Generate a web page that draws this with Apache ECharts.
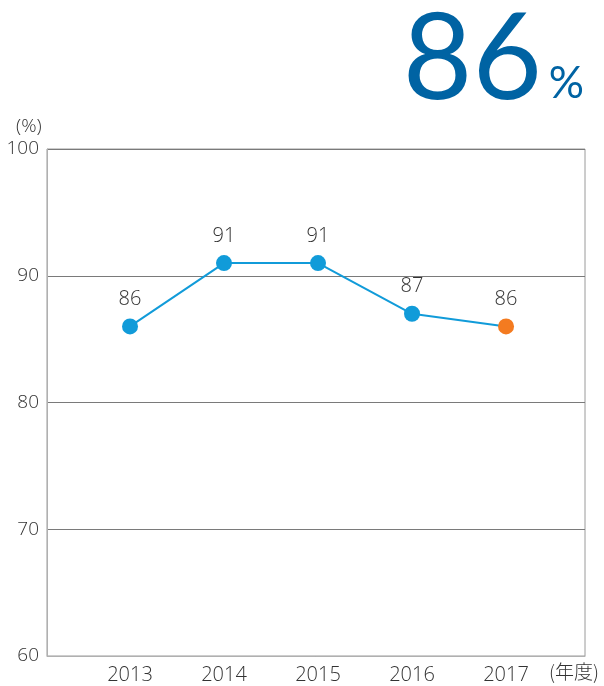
<!DOCTYPE html>
<html>
<head>
<meta charset="utf-8">
<script src="https://cdn.jsdelivr.net/npm/echarts@6/dist/echarts.min.js"></script>
<style>
  html, body { margin: 0; padding: 0; background: #fff; }
  #chart { width: 604px; height: 686px; }
</style>
</head>
<body>
<div id="chart"></div>
<script>
// Yearly rate (%), fiscal years 2013–2017
const years = [2013, 2014, 2015, 2016, 2017];
const rates = [86, 91, 91, 87, 86];
const yTicks = [60, 70, 80, 90, 100];

const FONT = "'Open Sans', 'Noto Sans', sans-serif";
const BLUE = '#119bd9';
const ORANGE = '#f47b20';
const DARK_BLUE = '#0063a3';
const latest = rates[rates.length - 1];

const seriesData = years.map((y, i) => {
  const item = { value: [y, rates[i]] };
  if (i === years.length - 1) item.itemStyle = { color: ORANGE };
  return item;
});

const chart = echarts.init(document.getElementById('chart'), null, { renderer: 'canvas' });
chart.setOption({
  animation: false,
  backgroundColor: '#fff',
  grid: {
    left: 47, right: 19, top: 149, bottom: 30,
    show: true, borderColor: '#9a9a9a', borderWidth: 1
  },
  xAxis: {
    type: 'value',
    min: 2012.117,
    max: 2017.84,
    axisLine: { show: true, lineStyle: { color: '#b0b0b0', width: 1 } },
    axisTick: { show: false },
    splitLine: { show: false },
    axisLabel: {
      customValues: years,
      formatter: v => String(v),
      color: '#333', fontSize: 20, fontWeight: 300, fontFamily: FONT, margin: 9
    }
  },
  yAxis: {
    type: 'value',
    min: yTicks[0], max: yTicks[yTicks.length - 1], interval: 10,
    axisLine: { show: true, lineStyle: { color: '#b0b0b0', width: 1 } },
    axisTick: { show: false },
    splitLine: { show: true, lineStyle: { color: '#7a7a7a', width: 1 } },
    axisLabel: { color: '#333', fontSize: 19, fontWeight: 300, fontFamily: FONT, margin: 8 }
  },
  graphic: [
    {
      type: 'text', left: 16, top: 117,
      style: { text: '(%)', fill: '#333', font: "300 19px 'Open Sans', sans-serif" }
    },
    {
      type: 'text', left: 549, top: 662,
      style: { text: '(年度)', fill: '#333', font: "300 19px 'Noto Sans CJK JP', sans-serif" }
    },
    {
      type: 'text', right: 62, top: 0,
      style: { text: String(latest), fill: DARK_BLUE, font: "400 120px Lato, sans-serif" }
    },
    {
      type: 'text', right: 20, top: 62,
      style: { text: '%', fill: DARK_BLUE, font: "400 44px Lato, sans-serif" }
    }
  ],
  series: [{
    type: 'line',
    data: seriesData,
    symbol: 'circle',
    symbolSize: 16,
    lineStyle: { color: BLUE, width: 2 },
    itemStyle: { color: BLUE },
    label: {
      show: true, position: 'top', distance: 9,
      formatter: p => String(p.value[1]),
      color: '#333', fontSize: 20, fontWeight: 300, fontFamily: FONT
    }
  }]
});
</script>
</body>
</html>
